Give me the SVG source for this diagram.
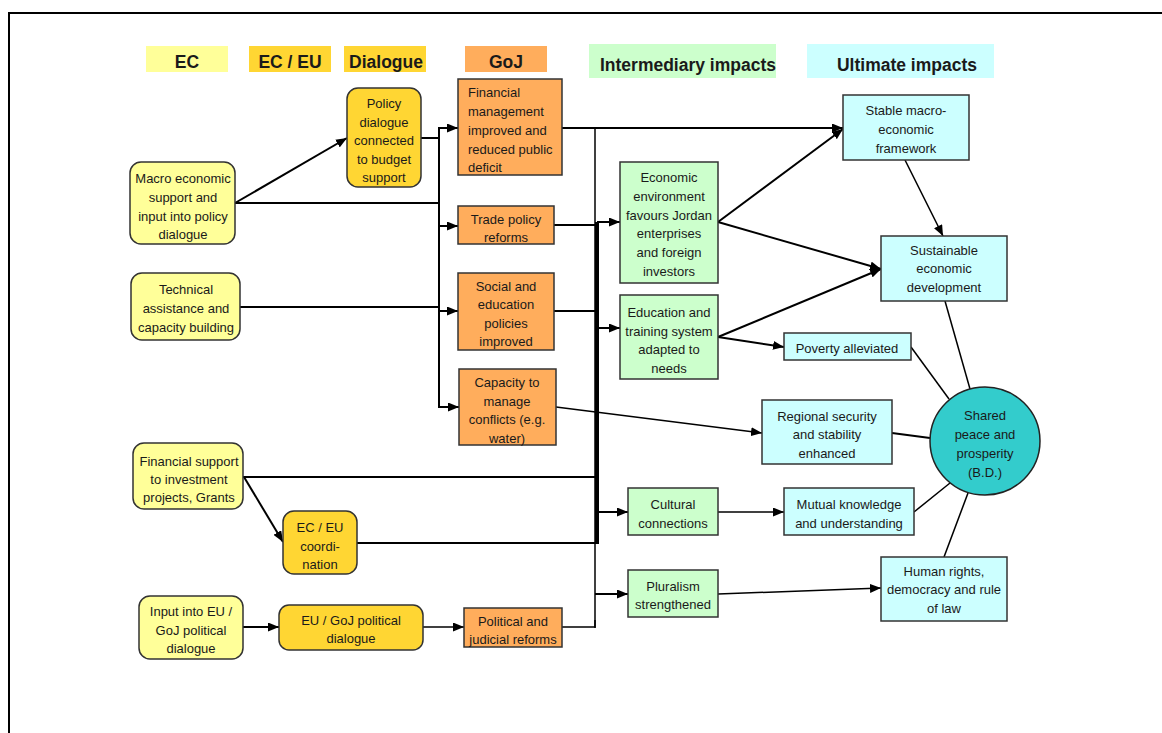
<svg xmlns="http://www.w3.org/2000/svg" width="1162" height="733" viewBox="0 0 1162 733">
<style>
text{font-family:"Liberation Sans",Arial,sans-serif;font-size:13px;fill:#1a1a1a;text-anchor:middle}
.hd{font-size:17.5px;font-weight:bold}
.lt{text-anchor:start}
.n{stroke:#333;stroke-width:1.5}
.ec{fill:#FFFF99}
.gd{fill:#FFD633}
.or{fill:#FFAD5C}
.gr{fill:#CCFFCC}
.cy{fill:#CCFFFF}
.c{stroke:#000;stroke-width:2;fill:none}
.t{stroke:#000;stroke-width:1.5;fill:none}
.a{marker-end:url(#ah)}
</style>
<defs>
<marker id="ah" markerUnits="userSpaceOnUse" markerWidth="11" markerHeight="9" refX="11" refY="4.5" orient="auto">
<path d="M0,0 L11,4.5 L0,9 z" fill="#000"/>
</marker>
</defs>
<rect width="1162" height="733" fill="#fff"/>
<rect x="9" y="13" width="1162" height="730" fill="none" stroke="#000" stroke-width="2"/>

<g id="headers">
<rect x="146" y="46" width="82" height="26" class="ec"/>
<text x="187" y="68" class="hd">EC</text>
<rect x="249" y="46" width="82" height="26" class="gd"/>
<text x="290" y="68" class="hd">EC / EU</text>
<rect x="344" y="46" width="82" height="26" class="gd"/>
<text x="386" y="68" class="hd">Dialogue</text>
<rect x="465" y="46" width="82" height="26" class="or"/>
<text x="506" y="68" class="hd">GoJ</text>
<rect x="589" y="44" width="187" height="34" class="gr"/>
<text x="688" y="71" class="hd">Intermediary impacts</text>
<rect x="807" y="44" width="187" height="34" class="cy"/>
<text x="907" y="71" class="hd">Ultimate impacts</text>
</g>

<g id="connectors">
<line x1="235" y1="203" x2="347" y2="138" class="c a"/>
<line x1="235" y1="203" x2="439" y2="203" class="c"/>
<line x1="421" y1="138" x2="439" y2="138" class="c"/>
<line x1="240" y1="307" x2="439" y2="307" class="c"/>
<line x1="439" y1="127" x2="439" y2="408" class="c"/>
<line x1="439" y1="128" x2="458" y2="128" class="c a"/>
<line x1="439" y1="226" x2="458" y2="226" class="c a"/>
<line x1="439" y1="311" x2="458" y2="311" class="c a"/>
<line x1="438" y1="407" x2="459" y2="407" class="c a"/>
<line x1="562" y1="128" x2="843" y2="128" class="c a"/>
<line x1="595" y1="128" x2="595" y2="628" class="t"/>
<line x1="597" y1="222" x2="597" y2="544" stroke="#000" stroke-width="4"/>
<line x1="554" y1="225" x2="597" y2="225" class="c"/>
<line x1="554" y1="311" x2="597" y2="311" class="c"/>
<line x1="597" y1="222" x2="620" y2="222" class="c a"/>
<line x1="597" y1="328" x2="620" y2="328" class="c a"/>
<line x1="556" y1="407" x2="762" y2="433" class="t a"/>
<line x1="243" y1="477" x2="597" y2="477" class="c"/>
<line x1="244" y1="477" x2="283" y2="542" class="c a"/>
<line x1="357" y1="543" x2="597" y2="543" class="c"/>
<line x1="597" y1="512" x2="628" y2="512" class="c a"/>
<line x1="595" y1="594" x2="628" y2="594" class="c a"/>
<polyline points="562,627 595,627 595,620" class="t"/>
<line x1="243" y1="627" x2="279" y2="627" class="c a"/>
<line x1="423" y1="627" x2="464" y2="627" class="t a"/>
<line x1="718" y1="222" x2="843" y2="129" class="c a"/>
<line x1="718" y1="222" x2="881" y2="269" class="c a"/>
<line x1="718" y1="337" x2="881" y2="269" class="c a"/>
<line x1="718" y1="337" x2="784" y2="347" class="c a"/>
<line x1="905" y1="160" x2="943" y2="236" class="t a"/>
<line x1="718" y1="512" x2="784" y2="512" class="t a"/>
<line x1="718" y1="594" x2="881" y2="588" class="t a"/>
<line x1="945" y1="301" x2="970" y2="389" class="t"/>
<line x1="911" y1="347" x2="949" y2="399" class="t"/>
<line x1="892" y1="433" x2="930" y2="438" class="c"/>
<line x1="914" y1="512" x2="950" y2="483" class="t"/>
<line x1="944" y1="557" x2="968" y2="493" class="t"/>
</g>

<g id="n-macro">
<rect x="130" y="162" width="105" height="82" rx="11" class="n ec"/>
<text x="183"><tspan x="183" y="183">Macro economic</tspan><tspan x="183" y="202">support and</tspan><tspan x="183" y="221">input into policy</tspan><tspan x="183" y="239">dialogue</tspan></text>
</g>
<g id="n-technical">
<rect x="131" y="273" width="109" height="67" rx="11" class="n ec"/>
<text x="186"><tspan x="186" y="294">Technical</tspan><tspan x="186" y="313">assistance and</tspan><tspan x="186" y="332">capacity building</tspan></text>
</g>
<g id="n-finsupport">
<rect x="133" y="443" width="110" height="66" rx="11" class="n ec"/>
<text x="189"><tspan x="189" y="466">Financial support</tspan><tspan x="189" y="484">to investment</tspan><tspan x="189" y="502">projects, Grants</tspan></text>
</g>
<g id="n-input">
<rect x="139" y="596" width="104" height="63" rx="11" class="n ec"/>
<text x="191"><tspan x="191" y="616">Input into EU /</tspan><tspan x="191" y="635">GoJ political</tspan><tspan x="191" y="653">dialogue</tspan></text>
</g>

<g id="n-policy">
<rect x="347" y="88" width="74" height="99" rx="11" class="n gd"/>
<text x="384"><tspan x="384" y="108">Policy</tspan><tspan x="384" y="127">dialogue</tspan><tspan x="384" y="145">connected</tspan><tspan x="384" y="164">to budget</tspan><tspan x="384" y="182">support</tspan></text>
</g>
<g id="n-coord">
<rect x="283" y="511" width="74" height="63" rx="11" class="n gd"/>
<text x="320"><tspan x="320" y="532">EC / EU</tspan><tspan x="320" y="551">coordi-</tspan><tspan x="320" y="569">nation</tspan></text>
</g>
<g id="n-eugoj">
<rect x="279" y="605" width="144" height="45" rx="10" class="n gd"/>
<text x="351"><tspan x="351" y="625">EU / GoJ political</tspan><tspan x="351" y="643">dialogue</tspan></text>
</g>

<g id="n-finmgmt">
<rect x="458" y="79" width="104" height="96" class="n or"/>
<text class="lt"><tspan x="468" y="97">Financial</tspan><tspan x="468" y="116">management</tspan><tspan x="468" y="135">improved and</tspan><tspan x="468" y="154">reduced public</tspan><tspan x="468" y="172">deficit</tspan></text>
</g>
<g id="n-trade">
<rect x="458" y="206" width="96" height="38" class="n or"/>
<text x="506"><tspan x="506" y="224">Trade policy</tspan><tspan x="506" y="242">reforms</tspan></text>
</g>
<g id="n-social">
<rect x="458" y="273" width="96" height="77" class="n or"/>
<text x="506"><tspan x="506" y="291">Social and</tspan><tspan x="506" y="309">education</tspan><tspan x="506" y="328">policies</tspan><tspan x="506" y="346">improved</tspan></text>
</g>
<g id="n-capacity">
<rect x="459" y="369" width="97" height="76" class="n or"/>
<text x="507"><tspan x="507" y="387">Capacity to</tspan><tspan x="507" y="406">manage</tspan><tspan x="507" y="424">conflicts (e.g.</tspan><tspan x="507" y="443">water)</tspan></text>
</g>
<g id="n-political">
<rect x="464" y="608" width="98" height="39" class="n or"/>
<text x="513"><tspan x="513" y="626">Political and</tspan><tspan x="513" y="644">judicial reforms</tspan></text>
</g>

<g id="n-econenv">
<rect x="620" y="162" width="98" height="121" class="n gr"/>
<text x="669"><tspan x="669" y="182">Economic</tspan><tspan x="669" y="201">environment</tspan><tspan x="669" y="220">favours Jordan</tspan><tspan x="669" y="238">enterprises</tspan><tspan x="669" y="257">and foreign</tspan><tspan x="669" y="276">investors</tspan></text>
</g>
<g id="n-education">
<rect x="620" y="295" width="98" height="84" class="n gr"/>
<text x="669"><tspan x="669" y="317">Education and</tspan><tspan x="669" y="336">training system</tspan><tspan x="669" y="354">adapted to</tspan><tspan x="669" y="373">needs</tspan></text>
</g>
<g id="n-cultural">
<rect x="628" y="488" width="90" height="47" class="n gr"/>
<text x="673"><tspan x="673" y="509">Cultural</tspan><tspan x="673" y="528">connections</tspan></text>
</g>
<g id="n-pluralism">
<rect x="628" y="570" width="90" height="47" class="n gr"/>
<text x="673"><tspan x="673" y="591">Pluralism</tspan><tspan x="673" y="609">strengthened</tspan></text>
</g>

<g id="n-stable">
<rect x="843" y="95" width="126" height="65" class="n cy"/>
<text x="906"><tspan x="906" y="115">Stable macro-</tspan><tspan x="906" y="134">economic</tspan><tspan x="906" y="153">framework</tspan></text>
</g>
<g id="n-sustainable">
<rect x="881" y="236" width="126" height="65" class="n cy"/>
<text x="944"><tspan x="944" y="255">Sustainable</tspan><tspan x="944" y="273">economic</tspan><tspan x="944" y="292">development</tspan></text>
</g>
<g id="n-poverty">
<rect x="784" y="333" width="127" height="27" class="n cy"/>
<text x="847" y="353">Poverty alleviated</text>
</g>
<g id="n-regional">
<rect x="762" y="400" width="130" height="64" class="n cy"/>
<text x="827"><tspan x="827" y="421">Regional security</tspan><tspan x="827" y="439">and stability</tspan><tspan x="827" y="458">enhanced</tspan></text>
</g>
<g id="n-mutual">
<rect x="784" y="488" width="130" height="47" class="n cy"/>
<text x="849"><tspan x="849" y="509">Mutual knowledge</tspan><tspan x="849" y="528">and understanding</tspan></text>
</g>
<g id="n-human">
<rect x="881" y="557" width="126" height="64" class="n cy"/>
<text x="944"><tspan x="944" y="576">Human rights,</tspan><tspan x="944" y="594">democracy and rule</tspan><tspan x="944" y="613">of law</tspan></text>
</g>
<g id="n-shared">
<ellipse cx="985" cy="441" rx="55" ry="54" fill="#33CCCC" stroke="#222" stroke-width="1.5"/>
<text x="985"><tspan x="985" y="420">Shared</tspan><tspan x="985" y="439">peace and</tspan><tspan x="985" y="458">prosperity</tspan><tspan x="985" y="477">(B.D.)</tspan></text>
</g>
</svg>
